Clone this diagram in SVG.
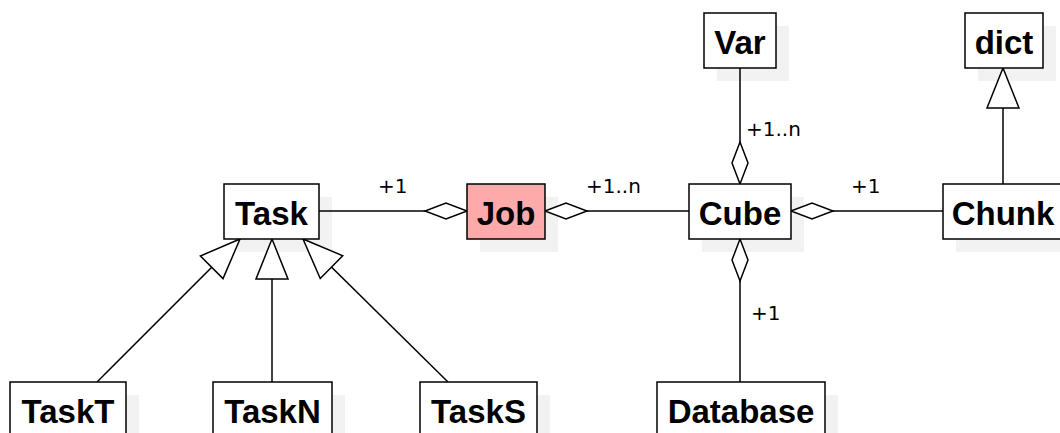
<svg xmlns="http://www.w3.org/2000/svg" width="1060" height="433" viewBox="0 0 1060 433">
<style>
.box{fill:#ffffff;stroke:#000000;stroke-width:1.5}
.job{fill:#ffaaaa}
.shadow{fill:#f2f2f2;stroke:none}
.name{font-family:"Liberation Sans",Arial,sans-serif;font-weight:bold;font-size:33px;text-anchor:middle;fill:#000000}
.lbl{font-family:"DejaVu Sans",sans-serif;font-size:20px;fill:#000000}
.edge{fill:none;stroke:#000000;stroke-width:1.5}
.agg{marker-start:url(#diamond)}
.gen{marker-start:url(#triangle)}
</style>
<defs>
<marker id="diamond" markerUnits="userSpaceOnUse" orient="auto" refX="0" refY="0" markerWidth="50" markerHeight="20" overflow="visible">
<path d="M0 0 L21 -8 L42 0 L21 8 Z" fill="#ffffff" stroke="#000000" stroke-width="1.5"/>
</marker>
<marker id="triangle" markerUnits="userSpaceOnUse" orient="auto" refX="0" refY="0" markerWidth="50" markerHeight="40" overflow="visible">
<path d="M0 0 L40 -16 L40 16 Z" fill="#ffffff" stroke="#000000" stroke-width="1.5"/>
</marker>
</defs>
<rect width="1060" height="433" fill="#ffffff"/>
<g id="shadows">
<rect class="shadow" x="237" y="197" width="95" height="55"/>
<rect class="shadow" x="480" y="197" width="78" height="55"/>
<rect class="shadow" x="702" y="197" width="102" height="55"/>
<rect class="shadow" x="717" y="26" width="72" height="55"/>
<rect class="shadow" x="978" y="26" width="78" height="55"/>
<rect class="shadow" x="956" y="197" width="120" height="55"/>
<rect class="shadow" x="670" y="395" width="168" height="55"/>
<rect class="shadow" x="23" y="395" width="116" height="55"/>
<rect class="shadow" x="226" y="395" width="119" height="55"/>
<rect class="shadow" x="433" y="395" width="117" height="55"/>
</g>
<g id="connectors">
<path class="edge agg" d="M467 211 L319 211"/>
<path class="edge agg" d="M545 211 L689 211"/>
<path class="edge agg" d="M740 184 L740 68"/>
<path class="edge agg" d="M791 211 L943 211"/>
<path class="edge agg" d="M740 239 L740 382"/>
<path class="edge gen" d="M1003 68 L1003 184"/>
<path class="edge gen" d="M240 239 L97 382"/>
<path class="edge gen" d="M272 239 L272 382"/>
<path class="edge gen" d="M303 239 L448 382"/>
<text class="lbl" x="378" y="193">+1</text>
<text class="lbl" x="586" y="193">+1..n</text>
<text class="lbl" x="746" y="136">+1..n</text>
<text class="lbl" x="851" y="193">+1</text>
<text class="lbl" x="751" y="320">+1</text>
</g>
<g id="Task"><rect class="box" x="224" y="184" width="95" height="55"/><text class="name" x="271.5" y="225">Task</text></g>
<g id="Job"><rect class="box job" x="467" y="184" width="78" height="55"/><text class="name" x="506" y="225">Job</text></g>
<g id="Cube"><rect class="box" x="689" y="184" width="102" height="55"/><text class="name" x="740" y="225">Cube</text></g>
<g id="Var"><rect class="box" x="704" y="13" width="72" height="55"/><text class="name" x="740" y="54">Var</text></g>
<g id="dict"><rect class="box" x="965" y="13" width="78" height="55"/><text class="name" x="1004" y="54">dict</text></g>
<g id="Chunk"><rect class="box" x="943" y="184" width="120" height="55"/><text class="name" x="1003" y="225">Chunk</text></g>
<g id="Database"><rect class="box" x="657" y="382" width="168" height="55"/><text class="name" x="741" y="423">Database</text></g>
<g id="TaskT"><rect class="box" x="10" y="382" width="116" height="55"/><text class="name" x="68" y="423">TaskT</text></g>
<g id="TaskN"><rect class="box" x="213" y="382" width="119" height="55"/><text class="name" x="272.5" y="423">TaskN</text></g>
<g id="TaskS"><rect class="box" x="420" y="382" width="117" height="55"/><text class="name" x="478.5" y="423">TaskS</text></g>
</svg>
